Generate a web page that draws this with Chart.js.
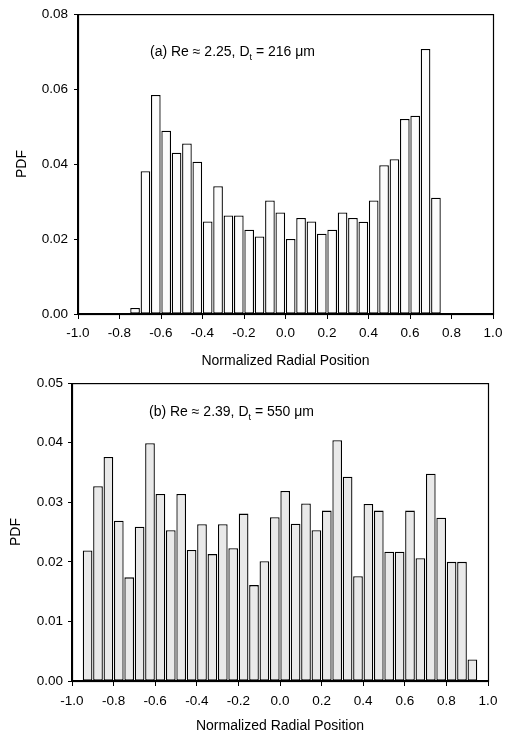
<!DOCTYPE html>
<html>
<head>
<meta charset="utf-8">
<script src="https://cdn.jsdelivr.net/npm/chart.js@4.4.1/dist/chart.umd.min.js"></script>
<style>
    html, body { margin: 0; padding: 0; background: #fff; }
    .box { position: relative; width: 505px; }
    #boxA { height: 370px; }
    #boxB { height: 365px; }
</style>
</head>
<body>
<div class="box" id="boxA"><canvas id="chartA"></canvas></div>
<div class="box" id="boxB"><canvas id="chartB"></canvas></div>
<script>
// (a) Re ≈ 2.25, Dt = 216 µm
const binsA = [-0.725, -0.675, -0.625, -0.575, -0.525, -0.475, -0.425, -0.375, -0.325, -0.275,
    -0.225, -0.175, -0.125, -0.075, -0.025, 0.025, 0.075, 0.125, 0.175, 0.225,
    0.275, 0.325, 0.375, 0.425, 0.475, 0.525, 0.575, 0.625, 0.675, 0.725];
const pdfA = [0.0016, 0.0381, 0.0584, 0.0489, 0.0430, 0.0455, 0.0406, 0.0247, 0.0341, 0.0263,
    0.0263, 0.0225, 0.0207, 0.0303, 0.0271, 0.0200, 0.0256, 0.0247, 0.0214, 0.0225,
    0.0271, 0.0256, 0.0246, 0.0303, 0.0397, 0.0413, 0.0520, 0.0529, 0.0707, 0.0310];

// (b) Re ≈ 2.39, Dt = 550 µm
const binsB = [-0.925, -0.875, -0.825, -0.775, -0.725, -0.675, -0.625, -0.575, -0.525, -0.475,
    -0.425, -0.375, -0.325, -0.275, -0.225, -0.175, -0.125, -0.075, -0.025, 0.025,
    0.075, 0.125, 0.175, 0.225, 0.275, 0.325, 0.375, 0.425, 0.475, 0.525,
    0.575, 0.625, 0.675, 0.725, 0.775, 0.825, 0.875, 0.925];
const pdfB = [0.0219, 0.0327, 0.0376, 0.0269, 0.0174, 0.0259, 0.0399, 0.0314, 0.0253, 0.0314,
    0.0220, 0.0263, 0.0213, 0.0263, 0.0223, 0.0281, 0.0161, 0.0201, 0.0275, 0.0319,
    0.0264, 0.0298, 0.0253, 0.0286, 0.0404, 0.0343, 0.0176, 0.0297, 0.0286, 0.0217,
    0.0217, 0.0286, 0.0206, 0.0348, 0.0274, 0.0200, 0.0200, 0.0036];

const xTicks = [-1.0, -0.8, -0.6, -0.4, -0.2, 0.0, 0.2, 0.4, 0.6, 0.8, 1.0];
const yTicksA = [0.00, 0.02, 0.04, 0.06, 0.08];
const yTicksB = [0.00, 0.01, 0.02, 0.03, 0.04, 0.05];

const FONT = "'Liberation Sans', Arial, sans-serif";
Chart.defaults.font.family = FONT;
Chart.defaults.font.size = 13.5;
Chart.defaults.color = '#000';

// cadre autour de la zone de tracé + annotation
const framePlugin = {
    id: 'frame',
    afterDraw(chart, args, opts) {
        const { ctx, chartArea: a } = chart;
        ctx.save();
        ctx.strokeStyle = '#000';
        ctx.lineWidth = 1.2;
        ctx.strokeRect(a.left + 0.5, a.top + 0.5, a.right - a.left, a.bottom - a.top);

        // annotation avec indice "t"
        const parts = opts.label;
        let x = a.left + opts.dx;
        const y = a.top + opts.dy;
        ctx.fillStyle = '#000';
        ctx.textBaseline = 'middle';
        ctx.font = '14px ' + FONT;
        ctx.fillText(parts[0], x, y);
        x += ctx.measureText(parts[0]).width;
        ctx.font = '9px ' + FONT;
        ctx.fillText('t', x, y + 5);
        x += ctx.measureText('t').width;
        ctx.font = '14px ' + FONT;
        ctx.fillText(parts[1], x, y);
        ctx.restore();
    }
};

const makeChart = (canvasId, bins, values, yTicks, fill, cfg) => {
    const points = bins.map((b, i) => ({ x: b, y: values[i] }));
    return new Chart(document.getElementById(canvasId), {
        type: 'bar',
        data: {
            datasets: [{
                data: points,
                backgroundColor: fill,
                borderColor: '#000',
                borderWidth: 1.3,
                borderSkipped: false,
                barPercentage: 0.93,
                categoryPercentage: 1.0
            }]
        },
        plugins: [framePlugin],
        options: {
            responsive: true,
            maintainAspectRatio: false,
            animation: false,
            layout: { padding: { left: 0, top: cfg.top, right: cfg.right, bottom: 0 } },
            plugins: {
                legend: { display: false },
                tooltip: { enabled: false },
                frame: { label: cfg.label, dx: cfg.dx, dy: cfg.dy }
            },
            scales: {
                x: {
                    type: 'linear',
                    min: -1,
                    max: 1,
                    offset: false,
                    afterBuildTicks: s => { s.ticks = xTicks.map(v => ({ value: v })); },
                    ticks: {
                        padding: cfg.xPad,
                        maxRotation: 0,
                        autoSkip: false,
                        callback: v => v.toFixed(1)
                    },
                    grid: { display: true, drawOnChartArea: false, offset: false, tickLength: 5, color: '#000' },
                    border: { color: '#000', width: 1.2 },
                    title: {
                        display: true,
                        text: 'Normalized Radial Position',
                        font: { size: 14 },
                        padding: { top: 0, bottom: 0 }
                    },
                    afterFit: s => {
                        s.height = cfg.xHeight;
                        s.paddingLeft = 0;
                        s.paddingRight = 0;
                    }
                },
                y: {
                    min: 0,
                    max: yTicks[yTicks.length - 1],
                    afterBuildTicks: s => { s.ticks = yTicks.map(v => ({ value: v })); },
                    ticks: {
                        padding: cfg.yPad,
                        callback: v => v.toFixed(2)
                    },
                    grid: { display: true, drawOnChartArea: false, tickLength: 4, color: '#000' },
                    border: { color: '#000', width: 1.2 },
                    title: {
                        display: true,
                        text: 'PDF',
                        font: { size: 14 },
                        padding: { top: cfg.titlePad, bottom: 0 }
                    },
                    afterFit: s => { s.width = cfg.yWidth; }
                }
            }
        }
    });
};

makeChart('chartA', binsA, pdfA, yTicksA, '#fcfcfc', {
    top: 13, right: 12, xHeight: 56, yWidth: 78, yPad: 6, xPad: 6, titlePad: 14,
    label: ['(a) Re \u2248 2.25, D', ' = 216 \u03bcm'], dx: 72, dy: 38
});
makeChart('chartB', binsB, pdfB, yTicksB, '#e9e9e9', {
    top: 11, right: 17, xHeight: 54, yWidth: 72, yPad: 5, xPad: 7, titlePad: 8,
    label: ['(b) Re \u2248 2.39, D', ' = 550 \u03bcm'], dx: 77, dy: 29
});
</script>
</body>
</html>
